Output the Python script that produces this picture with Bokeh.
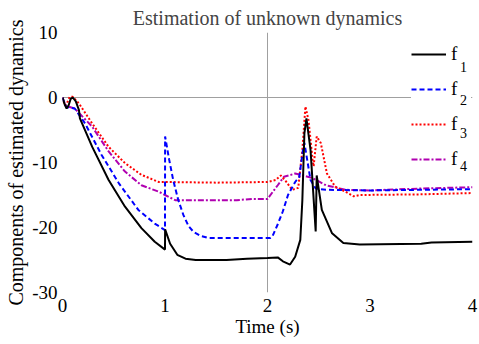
from bokeh.plotting import figure
from bokeh.models import Span, Legend, LegendItem, Label, FixedTicker, Range1d
from bokeh.embed import file_html
from bokeh.resources import INLINE

# ---- data ----
f1_x = [0, 0.02, 0.04, 0.06, 0.08, 0.10, 0.13, 0.16, 0.17, 0.29, 0.45, 0.61, 0.77, 0.90, 1.0,
        1.001, 1.05, 1.12, 1.20, 1.30, 1.60, 1.80, 2.0, 2.10, 2.15, 2.22, 2.27, 2.32, 2.34, 2.36,
        2.38, 2.42, 2.47, 2.48, 2.53, 2.63, 2.74, 2.90, 3.5, 3.6, 4.0]
f1_y = [0, -1.0, -1.7, -1.2, -0.2, 0.0, -0.6, -1.9, -3.2, -7.6, -12.7, -16.8, -20.1, -22.2, -23.4,
        -20.3, -22.5, -24.2, -24.8, -25.0, -25.0, -24.8, -24.7, -24.6, -25.2, -25.7, -24.5, -21.9, -15.8, -5.5,
        -3.2, -8.1, -20.6, -12.0, -17.3, -20.9, -22.4, -22.6, -22.5, -22.3, -22.2]

f2_x = [0, 0.02, 0.04, 0.08, 0.12, 0.22, 0.38, 0.55, 0.74, 0.90, 1.0,
        1.001, 1.04, 1.08, 1.13, 1.18, 1.23, 1.28, 1.35, 1.42, 2.03, 2.05, 2.10, 2.15, 2.20, 2.27,
        2.31, 2.35, 2.36, 2.42, 2.47, 2.57, 3.0, 4.0]
f2_y = [0, -1.0, -1.5, -1.6, -1.7, -4.0, -8.8, -13.2, -17.3, -19.4, -20.4,
        -6.0, -9.5, -12.7, -15.8, -18.1, -19.8, -20.7, -21.3, -21.6, -21.6, -21.3, -19.5, -17.5, -15.0, -13.0,
        -12.2, -7.6, -7.0, -12.7, -14.0, -14.2, -14.3, -14.1]

f3_x = [0, 0.02, 0.04, 0.07, 0.10, 0.13, 0.16, 0.29, 0.45, 0.61, 0.77, 0.94, 1.0, 1.5, 2.0,
        2.08, 2.13, 2.18, 2.24, 2.30, 2.34, 2.37, 2.40, 2.44, 2.45, 2.48, 2.52, 2.58, 2.66, 2.76,
        2.84, 2.90, 3.5, 4.0]
f3_y = [0, -1.2, -1.0, 0.1, 0.1, -0.4, -0.9, -4.0, -7.6, -10.1, -11.9, -13.0, -13.0, -13.1, -13.0,
        -12.7, -12.0, -12.9, -14.2, -13.9, -8.1, -1.4, -3.5, -9.6, -10.6, -6.0, -7.0, -11.7, -13.7, -14.5,
        -15.2, -15.0, -14.9, -14.7]

f4_x = [0, 0.03, 0.06, 0.12, 0.29, 0.45, 0.61, 0.77, 0.94, 1.0, 1.10, 1.70, 1.85, 2.0,
        2.10, 2.16, 2.27, 2.35, 2.44, 2.57, 2.76, 3.0, 3.5, 4.0]
f4_y = [0, -1.2, -1.4, -1.7, -4.5, -8.3, -11.4, -13.5, -14.5, -15.0, -15.8, -15.8, -15.6, -15.6,
        -13.5, -12.2, -11.7, -12.0, -12.4, -13.5, -14.2, -14.3, -14.0, -13.8]

x_ticks = [0, 1, 2, 3, 4]
y_ticks = [-30, -20, -10, 0, 10]
y_tick_labels = ["-30", "-20", "-10", "0", "10"]
series_labels = ["f", "f", "f", "f"]
series_subs = ["1", "2", "3", "4"]

FONT = "Liberation Serif"

p = figure(width=479, height=344, output_backend="svg", toolbar_location=None,
           x_range=Range1d(0, 4), y_range=Range1d(-30, 10),
           min_border_left=62, min_border_right=7, min_border_top=32, min_border_bottom=52,
           title="Estimation of unknown dynamics")
p.title.text_font = FONT
p.title.text_font_size = "20px"
p.title.text_font_style = "normal"
p.title.align = "center"
p.title.standoff = 8
p.outline_line_color = None
p.xgrid.visible = False
p.ygrid.visible = False

for ax in (p.xaxis[0], p.yaxis[0]):
    ax.axis_line_color = None
    ax.major_tick_line_color = None
    ax.minor_tick_line_color = None
    ax.major_tick_out = 0
    ax.major_tick_in = 0
    ax.major_label_text_font = FONT
    ax.major_label_text_font_size = "19px"
    ax.major_label_text_color = "black"
    ax.axis_label_text_font = FONT
    ax.axis_label_text_font_style = "normal"
    ax.axis_label_text_color = "black"

p.xaxis[0].axis_label_text_font_size = "19px"
p.yaxis[0].axis_label_text_font_size = "20px"
p.xaxis[0].ticker = FixedTicker(ticks=x_ticks)
p.yaxis[0].ticker = FixedTicker(ticks=y_ticks)
p.yaxis[0].major_label_overrides = {t: s for t, s in zip(y_ticks, y_tick_labels)}
p.xaxis[0].axis_label = "Time (s)"
p.yaxis[0].axis_label = "Components of estimated dynamics"
p.xaxis[0].major_label_standoff = 6
p.xaxis[0].axis_label_standoff = 1
p.yaxis[0].major_label_standoff = 5
p.yaxis[0].axis_label_standoff = 2

p.add_layout(Span(location=0, dimension="width", line_color="#a0a0a0", line_width=1, level="underlay"))
p.add_layout(Span(location=2, dimension="height", line_color="#a0a0a0", line_width=1, level="underlay"))

r4 = p.line(f4_x, f4_y, line_color="#b000b0", line_width=2, line_dash="6 2 2 2")
r3 = p.line(f3_x, f3_y, line_color="#ff0000", line_width=2, line_dash="2 2")
r2 = p.line(f2_x, f2_y, line_color="#0000ff", line_width=2, line_dash="5 3")
r1 = p.line(f1_x, f1_y, line_color="black", line_width=2)

legend = Legend(items=[LegendItem(label=series_labels[0], renderers=[r1]),
                       LegendItem(label=series_labels[1], renderers=[r2]),
                       LegendItem(label=series_labels[2], renderers=[r3]),
                       LegendItem(label=series_labels[3], renderers=[r4])],
                location=(349, 122), margin=0, padding=8, spacing=13,
                glyph_width=35, glyph_height=20, label_height=20, label_width=6,
                label_standoff=5, label_text_font=FONT, label_text_font_size="19px",
                label_text_color="black",
                background_fill_color="white", background_fill_alpha=1.0,
                border_line_color=None)
p.add_layout(legend)

for i, s in enumerate(series_subs):
    p.add_layout(Label(x=401, y=226 - 33 * i, x_units="screen", y_units="screen",
                       text=s, text_align="center", text_baseline="middle", level="overlay",
                       text_font=FONT, text_font_size="14px", text_color="black",
                       background_fill_color="white", background_fill_alpha=1.0, padding=4))

open("out.html", "w").write(file_html(p, INLINE))
